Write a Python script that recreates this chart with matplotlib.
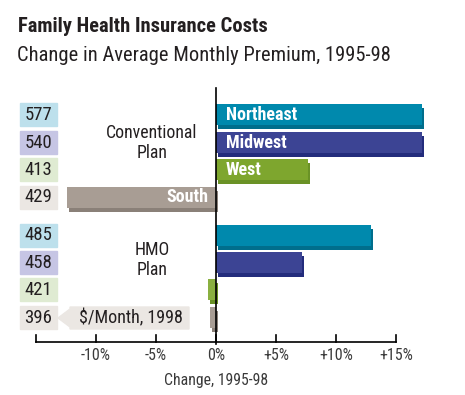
import numpy as np
import matplotlib.pyplot as plt
from matplotlib import font_manager
from matplotlib.patches import Rectangle, Polygon

# data
regions = ['Northeast', 'Midwest', 'West', 'South']
conv_change = [17.2, 17.2, 7.7, -12.4]   # % change 1995-98, conventional plan
hmo_change = [12.9, 7.2, -0.7, -0.5]     # % change 1995-98, HMO plan
conv_premium = [577, 540, 413, 429]      # $/month 1998
hmo_premium = [485, 458, 421, 396]
tick_vals = [-15, -10, -5, 0, 5, 10, 15]
tick_labels = ['', '-10%', '-5%', '0%', '+5%', '+10%', '+15%']

bar_cols = ['#0089ad', '#3c4494', '#7ea62e', '#a89d94']
shadow_cols = ['#006e8c', '#232c7c', '#6a9226', '#8a8078']
box_cols = ['#bde0ec', '#c6c5e4', '#dfebd2', '#ebe7e3']

names = set(f.name for f in font_manager.fontManager.ttflist)
narrow = 'DejaVu Sans'
for cand in ['Roboto Condensed', 'Liberation Sans Narrow', 'Archivo Narrow', 'Barlow Semi Condensed']:
    if cand in names:
        narrow = cand
        break
plt.rcParams['font.family'] = [narrow, 'DejaVu Sans']

W, H = 465, 395
fig = plt.figure(figsize=(W / 100, H / 100), dpi=100)
ax = fig.add_axes([0, 0, 1, 1])
# x in percent (0% at px 216, 12 px per %), y in pixels from the top
x0, ppp = 216, 12.0
ax.set_xlim(-x0 / ppp, (W - x0) / ppp)
ax.set_ylim(H, 0)
ax.axis('off')

def px(x):
    return (x - x0) / ppp

conv_y = [114.5 + 27.5 * i for i in range(4)]
hmo_y = [235 + 27.4 * i for i in range(4)]
bh = 21
dx, dy = 2 / ppp, 4

def draw_group(vals, ys, prem, hmo):
    for i, (v, y) in enumerate(zip(vals, ys)):
        ax.barh(y + dy, v, left=dx, height=bh, color=shadow_cols[i], zorder=2)
        c = bar_cols[i]
        if hmo and i == 2:
            c = '#8ab040'
        ax.barh(y, v, height=bh, color=c, zorder=3)
        ax.add_patch(Rectangle((px(20), y - 11.5), 37 / ppp, 23,
                               color=box_cols[i], zorder=3))
        ax.text(px(38.5), y + 0.5, str(prem[i]), ha='center', va='center',
                fontsize=13.5, color='#231f20', zorder=4)

draw_group(conv_change, conv_y, conv_premium, False)
draw_group(hmo_change, hmo_y, hmo_premium, True)

# region labels on the conventional bars
for i, (v, y) in enumerate(zip(conv_change, conv_y)):
    if v > 0:
        ax.text(10 / ppp, y + 0.5, regions[i], ha='left', va='center', color='white',
                fontsize=13, fontweight='bold', zorder=5)
    else:
        ax.text(-8 / ppp, y + 0.5, regions[i], ha='right', va='center', color='white',
                fontsize=13, fontweight='bold', zorder=5)

ax.text(px(152), 143, 'Conventional\nPlan', ha='center', va='center',
        fontsize=12.8, color='#231f20', linespacing=1.2)
ax.text(px(152), 260, 'HMO\nPlan', ha='center', va='center',
        fontsize=12.8, color='#231f20', linespacing=1.2)

# callout
cy = 318
ax.add_patch(Polygon([(px(58), cy), (px(70), cy - 9), (px(70), cy - 11),
                      (px(189), cy - 11), (px(189), cy + 11),
                      (px(70), cy + 11), (px(70), cy + 9)],
                     closed=True, color='#ebe7e3', zorder=2))
ax.text(px(131), cy + 0.5, '$/Month, 1998', ha='center', va='center',
        fontsize=13, color='#231f20', zorder=4)

# axis
ay = 342
ax.plot([tick_vals[0], tick_vals[-1]], [ay, ay], color='black', lw=1.2, zorder=5)
ax.plot([0, 0], [88, ay + 2], color='black', lw=1.2, zorder=6)
for t, lab in zip(tick_vals, tick_labels):
    ax.plot([t, t], [ay, ay - 7], color='black', lw=1.2, zorder=5)
    ax.text(t, 355, lab, ha='center', va='center', fontsize=11.5, color='#3a3a3a')
ax.text(0, 380, 'Change, 1995-98', ha='center', va='center', fontsize=11.3, color='#3a3a3a')

# titles
ax.text(px(18), 27, 'Family Health Insurance Costs', ha='left', va='center',
        fontsize=14.8, fontweight='bold', color='#231f20')
ax.text(px(17), 55.5, 'Change in Average Monthly Premium, 1995-98', ha='left',
        va='center', fontsize=14.8, color='#231f20')

fig.savefig('out.png', dpi=100)
